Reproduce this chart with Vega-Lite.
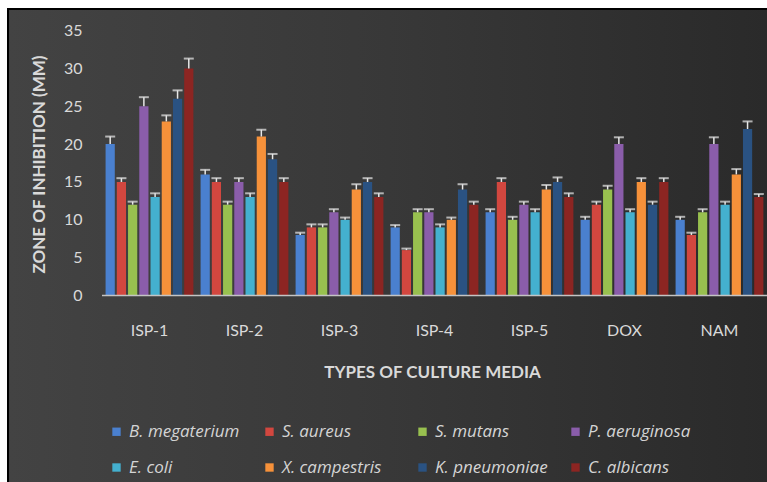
{
  "$schema": "https://vega.github.io/schema/vega-lite/v6.json",
  "width": 761,
  "height": 475,
  "autosize": {"type": "none"},
  "padding": {"left": 8, "top": 9, "right": -2, "bottom": -2},
  "background": "#ffffff",
  "view": {
    "fill": {
      "gradient": "linear",
      "x1": 0, "y1": 0, "x2": 1, "y2": 0,
      "stops": [
        {"offset": 0, "color": "#434343"},
        {"offset": 0.5, "color": "#383838"},
        {"offset": 1, "color": "#2a2a2a"}
      ]
    },
    "stroke": "#000000",
    "strokeWidth": 2
  },
  "config": {"font": "Lato"},
  "datasets": {
    "zones": [
      {"media": "ISP-1", "organism": "B. megaterium", "zone": 20, "upper": 21.0},
      {"media": "ISP-1", "organism": "S. aureus", "zone": 15, "upper": 15.5},
      {"media": "ISP-1", "organism": "S. mutans", "zone": 12, "upper": 12.4},
      {"media": "ISP-1", "organism": "P. aeruginosa", "zone": 25, "upper": 26.2},
      {"media": "ISP-1", "organism": "E. coli", "zone": 13, "upper": 13.5},
      {"media": "ISP-1", "organism": "X. campestris", "zone": 23, "upper": 23.8},
      {"media": "ISP-1", "organism": "K. pneumoniae", "zone": 26, "upper": 27.1},
      {"media": "ISP-1", "organism": "C. albicans", "zone": 30, "upper": 31.3},
      {"media": "ISP-2", "organism": "B. megaterium", "zone": 16, "upper": 16.6},
      {"media": "ISP-2", "organism": "S. aureus", "zone": 15, "upper": 15.5},
      {"media": "ISP-2", "organism": "S. mutans", "zone": 12, "upper": 12.4},
      {"media": "ISP-2", "organism": "P. aeruginosa", "zone": 15, "upper": 15.5},
      {"media": "ISP-2", "organism": "E. coli", "zone": 13, "upper": 13.5},
      {"media": "ISP-2", "organism": "X. campestris", "zone": 21, "upper": 21.9},
      {"media": "ISP-2", "organism": "K. pneumoniae", "zone": 18, "upper": 18.7},
      {"media": "ISP-2", "organism": "C. albicans", "zone": 15, "upper": 15.5},
      {"media": "ISP-3", "organism": "B. megaterium", "zone": 8, "upper": 8.3},
      {"media": "ISP-3", "organism": "S. aureus", "zone": 9, "upper": 9.4},
      {"media": "ISP-3", "organism": "S. mutans", "zone": 9, "upper": 9.4},
      {"media": "ISP-3", "organism": "P. aeruginosa", "zone": 11, "upper": 11.4},
      {"media": "ISP-3", "organism": "E. coli", "zone": 10, "upper": 10.3},
      {"media": "ISP-3", "organism": "X. campestris", "zone": 14, "upper": 14.7},
      {"media": "ISP-3", "organism": "K. pneumoniae", "zone": 15, "upper": 15.5},
      {"media": "ISP-3", "organism": "C. albicans", "zone": 13, "upper": 13.5},
      {"media": "ISP-4", "organism": "B. megaterium", "zone": 9, "upper": 9.3},
      {"media": "ISP-4", "organism": "S. aureus", "zone": 6, "upper": 6.2},
      {"media": "ISP-4", "organism": "S. mutans", "zone": 11, "upper": 11.4},
      {"media": "ISP-4", "organism": "P. aeruginosa", "zone": 11, "upper": 11.4},
      {"media": "ISP-4", "organism": "E. coli", "zone": 9, "upper": 9.4},
      {"media": "ISP-4", "organism": "X. campestris", "zone": 10, "upper": 10.3},
      {"media": "ISP-4", "organism": "K. pneumoniae", "zone": 14, "upper": 14.7},
      {"media": "ISP-4", "organism": "C. albicans", "zone": 12, "upper": 12.4},
      {"media": "ISP-5", "organism": "B. megaterium", "zone": 11, "upper": 11.4},
      {"media": "ISP-5", "organism": "S. aureus", "zone": 15, "upper": 15.5},
      {"media": "ISP-5", "organism": "S. mutans", "zone": 10, "upper": 10.4},
      {"media": "ISP-5", "organism": "P. aeruginosa", "zone": 12, "upper": 12.4},
      {"media": "ISP-5", "organism": "E. coli", "zone": 11, "upper": 11.4},
      {"media": "ISP-5", "organism": "X. campestris", "zone": 14, "upper": 14.6},
      {"media": "ISP-5", "organism": "K. pneumoniae", "zone": 15, "upper": 15.6},
      {"media": "ISP-5", "organism": "C. albicans", "zone": 13, "upper": 13.5},
      {"media": "DOX", "organism": "B. megaterium", "zone": 10, "upper": 10.4},
      {"media": "DOX", "organism": "S. aureus", "zone": 12, "upper": 12.4},
      {"media": "DOX", "organism": "S. mutans", "zone": 14, "upper": 14.5},
      {"media": "DOX", "organism": "P. aeruginosa", "zone": 20, "upper": 20.9},
      {"media": "DOX", "organism": "E. coli", "zone": 11, "upper": 11.4},
      {"media": "DOX", "organism": "X. campestris", "zone": 15, "upper": 15.5},
      {"media": "DOX", "organism": "K. pneumoniae", "zone": 12, "upper": 12.4},
      {"media": "DOX", "organism": "C. albicans", "zone": 15, "upper": 15.5},
      {"media": "NAM", "organism": "B. megaterium", "zone": 10, "upper": 10.4},
      {"media": "NAM", "organism": "S. aureus", "zone": 8, "upper": 8.3},
      {"media": "NAM", "organism": "S. mutans", "zone": 11, "upper": 11.4},
      {"media": "NAM", "organism": "P. aeruginosa", "zone": 20, "upper": 20.9},
      {"media": "NAM", "organism": "E. coli", "zone": 12, "upper": 12.4},
      {"media": "NAM", "organism": "X. campestris", "zone": 16, "upper": 16.7},
      {"media": "NAM", "organism": "K. pneumoniae", "zone": 22, "upper": 23.0},
      {"media": "NAM", "organism": "C. albicans", "zone": 13, "upper": 13.4}
    ],
    "baseline": [
      {"first": "ISP-1", "last": "NAM"}
    ]
  },
  "layer": [
    {
      "data": {"name": "zones"},
      "mark": {"type": "bar"},
      "encoding": {
        "x": {
          "field": "media",
          "type": "nominal",
          "title": "TYPES OF CULTURE MEDIA",
          "scale": {
            "domain": ["ISP-1", "ISP-2", "ISP-3", "ISP-4", "ISP-5", "DOX", "NAM"],
            "paddingInner": 0,
            "paddingOuter": 0.5053,
            "align": 0.979
          },
          "axis": {
            "orient": "bottom",
            "offset": -174,
            "domain": false,
            "ticks": false,
            "tickSize": 0,
            "grid": false,
            "labelAngle": 0,
            "labelPadding": 25,
            "labelBaseline": "alphabetic",
            "labelFontSize": 16,
            "labelColor": "#d9d9d9",
            "titleFontSize": 17,
            "titleFontWeight": "bold",
            "titleColor": "#d9d9d9",
            "titleX": 424,
            "titleY": 67,
            "titleAlign": "center",
            "titleBaseline": "alphabetic"
          }
        },
        "xOffset": {
          "field": "organism",
          "type": "nominal",
          "scale": {
            "domain": ["B. megaterium", "S. aureus", "S. mutans", "P. aeruginosa", "E. coli", "X. campestris", "K. pneumoniae", "C. albicans"],
            "paddingInner": 0.18,
            "paddingOuter": 0.32
          }
        },
        "y": {
          "field": "zone",
          "type": "quantitative",
          "title": "ZONE OF INHIBITION (MM)",
          "scale": {"domain": [-24.9, 37.85], "nice": false, "zero": false},
          "axis": {
            "orient": "left",
            "offset": -76,
            "values": [0, 5, 10, 15, 20, 25, 30, 35],
            "domain": false,
            "ticks": false,
            "tickSize": 0,
            "grid": false,
            "labelPadding": 2,
            "labelFontSize": 16,
            "labelColor": "#d9d9d9",
            "titleFontSize": 17,
            "titleFontWeight": "bold",
            "titleColor": "#d9d9d9",
            "titleX": -40,
            "titleY": 155,
            "titleBaseline": "alphabetic"
          }
        },
        "y2": {"datum": 0},
        "color": {
          "field": "organism",
          "type": "nominal",
          "scale": {
            "domain": ["B. megaterium", "S. aureus", "S. mutans", "P. aeruginosa", "E. coli", "X. campestris", "K. pneumoniae", "C. albicans"],
            "range": ["#4a80cf", "#d2473f", "#98c04f", "#8a5daa", "#44b0cf", "#f6913a", "#2a5282", "#8c2522"]
          },
          "legend": {
            "orient": "none",
            "legendX": 100,
            "legendY": 414,
            "title": null,
            "columns": 4,
            "direction": "horizontal",
            "gridAlign": "all",
            "columnPadding": 19,
            "rowPadding": 18,
            "padding": 0,
            "symbolType": "square",
            "symbolSize": 70,
            "symbolStrokeWidth": 0,
            "labelOffset": 4,
            "labelFont": "Open Sans",
            "labelFontSize": 17,
            "labelFontStyle": "italic",
            "labelColor": "#d4d4d4",
            "labelLimit": 300
          }
        }
      }
    },
    {
      "data": {"name": "zones"},
      "mark": {"type": "rule", "color": "#e8e8e8", "strokeWidth": 1.5},
      "encoding": {
        "x": {"field": "media", "type": "nominal", "title": "TYPES OF CULTURE MEDIA"},
        "xOffset": {"field": "organism", "type": "nominal"},
        "y": {"field": "zone", "type": "quantitative", "title": "ZONE OF INHIBITION (MM)"},
        "y2": {"field": "upper"}
      }
    },
    {
      "data": {"name": "zones"},
      "mark": {"type": "tick", "color": "#e8e8e8", "size": 10, "thickness": 2, "orient": "horizontal"},
      "encoding": {
        "x": {"field": "media", "type": "nominal", "title": "TYPES OF CULTURE MEDIA"},
        "xOffset": {"field": "organism", "type": "nominal"},
        "y": {"field": "upper", "type": "quantitative", "title": "ZONE OF INHIBITION (MM)"}
      }
    },
    {
      "data": {"name": "baseline"},
      "mark": {"type": "rule", "color": "#c4c4c4", "strokeWidth": 1.5},
      "encoding": {
        "x": {"field": "first", "type": "nominal", "bandPosition": 0, "title": "TYPES OF CULTURE MEDIA"},
        "x2": {"field": "last", "bandPosition": 1},
        "y": {"datum": 0, "title": "ZONE OF INHIBITION (MM)"}
      }
    }
  ]
}
